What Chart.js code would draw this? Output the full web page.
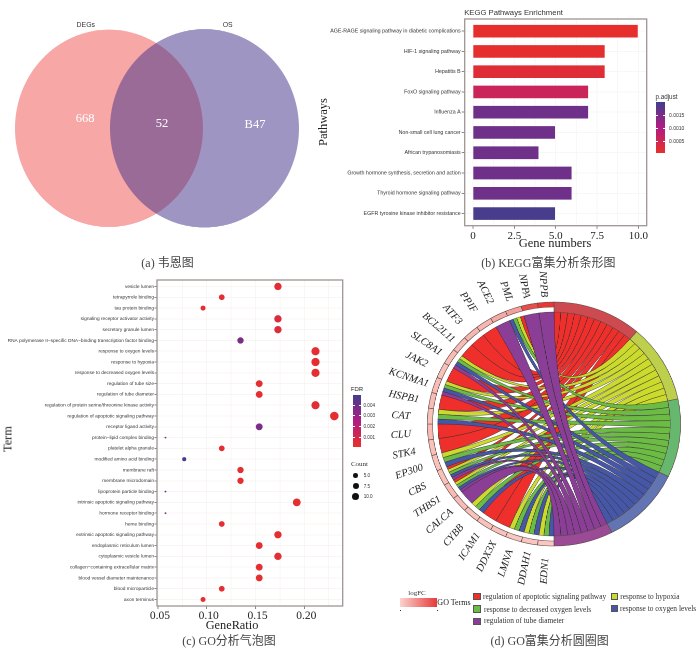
<!DOCTYPE html>
<html><head><meta charset="utf-8">
<script src="https://cdn.jsdelivr.net/npm/chart.js@4"></script>
<style>
html,body{margin:0;padding:0;background:#fff;width:700px;height:649px;overflow:hidden}
#stage{position:relative;width:700px;height:649px;overflow:hidden}
.w{position:absolute}
.t{position:absolute;white-space:nowrap;transform:translate(-50%,-50%);line-height:1}
.l{position:absolute;white-space:nowrap;transform:translateY(-50%);line-height:1}
.b{position:absolute}
</style></head><body><div id="stage"></div>
<script>
// ---------- panel (a) ----------
const vennSets=['DEGs','OS'];
const vennCentres=[-0.504,0.504];
const vennLabels=['668','52','B47'];
// ---------- panel (b) ----------
const keggPathways=['AGE-RAGE signaling pathway in diabetic complications','HIF-1 signaling pathway','Hepatitis B','FoxO signaling pathway','Influenza A','Non-small cell lung cancer','African trypanosomiasis','Growth hormone synthesis, secretion and action','Thyroid hormone signaling pathway','EGFR tyrosine kinase inhibitor resistance'];
const keggCounts=[10,8,8,7,7,5,4,6,6,5];
const keggPadj=[0.00003,0.00006,0.00016,0.00055,0.00160,0.00160,0.00160,0.00160,0.00160,0.00195];
const keggXTicks=[0,1.25,2.5,3.75,5,6.25,7.5,8.75,10];
const keggLegend=['0.0015','0.0010','0.0005'];
// ---------- panel (c) ----------
const goTerms=['vesicle lumen','tetrapyrrole binding','tau protein binding','signaling receptor activator activity','secretory granule lumen','RNA polymerase II\u2212specific DNA\u2212binding transcription factor binding','response to oxygen levels','response to hypoxia','response to decreased oxygen levels','regulation of tube size','regulation of tube diameter','regulation of protein serine/threonine kinase activity','regulation of apoptotic signaling pathway','receptor ligand activity','protein\u2212lipid complex binding','platelet alpha granule','modified amino acid binding','membrane raft','membrane microdomain','lipoprotein particle binding','intrinsic apoptotic signaling pathway','hormone receptor binding','heme binding','extrinsic apoptotic signaling pathway','endoplasmic reticulum lumen','cytoplasmic vesicle lumen','collagen\u2212containing extracellular matrix','blood vessel diameter maintenance','blood microparticle','axon terminus'];
const goCounts=[9,6,5,9,9,7,11,11,11,8,8,11,12,8,3,6,4,7,7,3,10,3,6,9,8,9,8,8,6,5];
const goRatios=[.173,.1154,.0962,.173,.173,.1346,.2115,.2115,.2115,.1538,.1538,.2115,.2308,.1538,.0577,.1154,.0769,.1346,.1346,.0577,.1923,.0577,.1154,.173,.1538,.173,.1538,.1538,.1154,.0962];
const goFdr=[.0003,.0002,.0002,.0006,.0005,.0037,.0002,.0002,.0002,.0002,.0002,.0003,.0002,.0037,.0037,.0003,.0049,.0002,.0002,.0037,.0002,.0037,.0002,.0002,.0002,.0002,.0002,.0002,.0002,.0002];
const goXTicks=[.05,.075,.1,.125,.15,.175,.2,.225];
const fdrLegend=['0.004','0.003','0.002','0.001'];
const countLegend=[[5,'5.0'],[7.5,'7.5'],[10,'10.0']];
// ---------- panel (d) ----------
const chordTerms=['regulation of apoptotic signaling pathway','response to hypoxia','response to decreased oxygen levels','response to oxygen levels','regulation of tube diameter'];
const chordGenes=['EDN1','DDAH1','LMNA','DDX3X','ICAM1','CYBB','CALCA','THBS1','CBS','EP300','STK4','CLU','CAT','HSPB1','KCNMA1','JAK2','SLC8A1','BCL2L11','ATF3','PPIF','ACE2','PML','NPPA','NPPB'];
const chordLogFC=[1.3,1.3,1.3,1.4,1.4,1.4,1.5,1.5,1.4,1.4,1.4,1.5,1.4,1.5,1.5,1.4,1.5,1.5,1.6,1.6,1.8,2.0,3.5,3.9];
const apoptosisGenes=['PML','PPIF','ATF3','BCL2L11','JAK2','HSPB1','CLU','STK4','CBS','THBS1','ICAM1','DDX3X'];
const hypoxiaGenes=['PML','SLC8A1','KCNMA1','CAT','EP300','CBS','THBS1','CYBB','LMNA','DDAH1','EDN1'];
const decreasedOxygenGenes=['PML','SLC8A1','KCNMA1','CAT','EP300','CBS','THBS1','CYBB','LMNA','DDAH1','EDN1'];
const oxygenGenes=['PML','SLC8A1','KCNMA1','CAT','EP300','CBS','THBS1','CYBB','LMNA','DDAH1','EDN1'];
const tubeDiameterGenes=['NPPB','NPPA','ACE2','SLC8A1','KCNMA1','CBS','THBS1','CALCA'];
const termMembers=[apoptosisGenes,hypoxiaGenes,decreasedOxygenGenes,oxygenGenes,tubeDiameterGenes];

const SANS='"Liberation Sans",Arial,sans-serif', SERIF='"Liberation Serif","Noto Sans CJK SC",serif';
const stage=document.getElementById('stage');
Chart.defaults.animation=false;
Chart.defaults.responsive=false;
Chart.defaults.devicePixelRatio=2;
Chart.defaults.events=[];
Chart.defaults.plugins.legend.display=false;
Chart.defaults.plugins.tooltip.enabled=false;

function text(x,y,s,o={}){const d=document.createElement('div');d.className=o.left?'l':'t';d.textContent=s;
 d.style.cssText+=`left:${x}px;top:${y}px;font:${o.style||''} ${o.size||12}px ${o.font||SERIF};color:${o.color||'#2b2b2b'};z-index:5;`;
 if(o.rot!=null)d.style.transform=`translate(-50%,-50%) rotate(${o.rot}deg)`;
 if(o.ls)d.style.letterSpacing=o.ls+'px';
 stage.appendChild(d);return d;}
function box(x,y,w,h,bg,extra=''){const d=document.createElement('div');d.className='b';d.style.cssText+=`left:${x}px;top:${y}px;width:${w}px;height:${h}px;background:${bg};z-index:4;${extra}`;stage.appendChild(d);return d;}
function canvasAt(x,y,w,h,extra=''){const d=document.createElement('div');d.className='w';d.style.cssText+=`left:${x}px;top:${y}px;width:${w}px;height:${h}px;${extra}`;const c=document.createElement('canvas');c.width=w;c.height=h;d.appendChild(c);stage.appendChild(d);return c;}
function mix(a,b,t){return a.map((v,i)=>Math.round(v+(b[i]-v)*t));}
function ramp(t){t=Math.max(0,Math.min(1,t));const r=[232,48,42],m=[176,28,130],n=[66,62,140];const c=t<.5?mix(r,m,t*2):mix(m,n,(t-.5)*2);return `rgb(${c})`;}
const rampCss='linear-gradient(to top,rgb(232,48,42),rgb(176,28,130),rgb(66,62,140))';
const boxPlugin={id:'frame',afterDatasetsDraw(ch){const a=ch.chartArea,c=ch.ctx;c.save();c.strokeStyle='#9d9593';c.lineWidth=1.3;c.strokeRect(a.left,a.top,a.right-a.left,a.bottom-a.top);c.restore();}};

// ---------- (a) Venn ----------
new Chart(canvasAt(0,0,320,260,'transform:scaleY(1.05);transform-origin:0 128.3px;'),{type:'scatter',
 data:{datasets:[
  {label:vennSets[1],data:[{x:vennCentres[1],y:0}],pointRadius:94.5,backgroundColor:'rgba(70,52,140,.52)',borderWidth:0,order:0,clip:false},
  {label:vennSets[0],data:[{x:vennCentres[0],y:0}],pointRadius:94,backgroundColor:'rgb(246,167,166)',borderWidth:0,order:1,clip:false}]},
 options:{layout:{autoPadding:false},scales:{x:{display:false,min:-1.654,max:1.723},y:{display:false,min:-1.39,max:1.354}}}});
text(85.8,24,vennSets[0],{font:SANS,size:6.9,color:'#333'});
text(227.7,24,vennSets[1],{font:SANS,size:6.9,color:'#333'});
text(85,118,vennLabels[0],{size:12.5,color:'#fff'});
text(162,122.7,vennLabels[1],{size:12.5,color:'#fff'});
text(255,124.3,vennLabels[2],{size:12.5,color:'#fff'});
text(167.5,262,'(a) 韦恩图',{size:12,color:'#444'});

// ---------- (b) KEGG bars ----------
new Chart(canvasAt(316,0,335,252),{type:'bar',
 data:{labels:keggPathways,datasets:[{data:keggCounts.map((v,i)=>({x:v,y:i})),barThickness:14,
  backgroundColor:keggPadj.map(p=>ramp(p/0.002)),borderColor:'rgba(255,255,255,.35)',borderWidth:1}]},
 options:{indexAxis:'y',layout:{autoPadding:false,padding:{top:19,right:4.3}},
  scales:{
   x:{type:'linear',min:-0.5,max:10.5,afterBuildTicks(s){s.ticks=keggXTicks.map(v=>({value:v}));},afterFit(s){s.height=26.3;},
    grid:{color:'#f6f4f4',lineWidth:.7,tickLength:3,tickColor:c=>c.tick&&Number.isInteger(c.tick.value/2.5)?'#555':'rgba(0,0,0,0)',z:-1},border:{display:false},
    ticks:{autoSkip:false,maxRotation:0,padding:1,color:'#222',font:{family:SERIF,size:11},callback:v=>Number.isInteger(v/2.5)?(v===0?'0':v.toFixed(1)):''}},
   y:{type:'linear',reverse:true,offset:false,min:-0.6,max:9.6,afterBuildTicks(s){s.ticks=keggPathways.map((_,i)=>({value:i}));},afterFit(s){s.width=148.7;},
    grid:{offset:false,color:'#f6f4f4',lineWidth:.7,tickLength:3,tickColor:'#555',z:-1},border:{display:false},
    ticks:{autoSkip:false,padding:1,color:'#333',font:{family:SANS,size:5.3},callback:v=>keggPathways[v]}}}},
 plugins:[boxPlugin]});
text(513.5,11.7,'KEGG Pathways Enrichment',{font:SANS,size:7.7,color:'#333'});
text(555,243,'Gene numbers',{size:12.5,color:'#222'});
text(322.7,122,'Pathways',{size:12.5,rot:-90,color:'#222'});
text(666.5,95.7,'p.adjust',{font:SANS,size:6.3,color:'#333'});
box(656,101.7,9.3,51.6,rampCss);
[115,128,141].forEach((y,i)=>{box(656,y,2,.6,'#fff');box(663.3,y,2,.6,'#fff');text(669,y,keggLegend[i],{left:1,font:SANS,size:5,color:'#333'});});
text(548.3,261.7,'(b) KEGG富集分析条形图',{size:12,color:'#444'});

// ---------- (c) GO bubbles ----------
const bubbleRadius=c=>0.9+3.4*Math.sqrt((c-3)/9);
new Chart(canvasAt(0,270,346,355),{type:'scatter',
 data:{datasets:[{data:goRatios.map((v,i)=>({x:v,y:i})),
  pointRadius:goCounts.map(bubbleRadius),pointBackgroundColor:goFdr.map(f=>ramp(f/0.005)),pointBorderWidth:0}]},
 options:{layout:{autoPadding:false,padding:{top:10,right:3.3}},
  scales:{
   x:{type:'linear',min:.049,max:.2394,afterBuildTicks(s){s.ticks=goXTicks.map(v=>({value:v}));},afterFit(s){s.height=19;},
    grid:{color:'#f8f2f2',lineWidth:.7,tickLength:3,tickColor:c=>c.index%2===0?'#555':'rgba(0,0,0,0)',z:-1},border:{display:false},
    ticks:{autoSkip:false,maxRotation:0,padding:0,labelOffset:2,color:'#222',font:{family:SERIF,size:11.5},callback:(v,i)=>i%2===0?v.toFixed(2):''}},
   y:{type:'linear',reverse:true,min:-0.6,max:29.6,afterBuildTicks(s){s.ticks=goTerms.map((_,i)=>({value:i}));},afterFit(s){s.width=157;},
    grid:{color:'#f8f2f2',lineWidth:.7,tickLength:2.5,tickColor:'#555',z:-1},border:{display:false},
    ticks:{autoSkip:false,padding:.5,color:'#333',font:{family:SANS,size:4.8},callback:v=>goTerms[v]}}}},
 plugins:[boxPlugin]});
text(232,624.5,'GeneRatio',{size:12.3,color:'#222'});
text(7.5,439,'Term',{size:12.3,rot:-90,color:'#222'});
text(357,389,'FDR',{font:SANS,size:6,color:'#333'});
box(353.3,395,7.7,52,rampCss);
[404.7,415.3,426,436.7].forEach((y,i)=>{box(353.3,y,1.6,.5,'#fff');box(359.4,y,1.6,.5,'#fff');text(363.5,y,fdrLegend[i],{left:1,font:SANS,size:4.6,color:'#333'});});
text(359.5,464,'Count',{size:7,color:'#333'});
[475.3,485.7,496.3].forEach((y,i)=>{const r=[2.3,3,3.7][i];box(355.7-r,y-r,2*r,2*r,'#111','border-radius:50%;');text(363.7,y,countLegend[i][1],{left:1,font:SANS,size:4.6,color:'#333'});});
text(229,640,'(c) GO分析气泡图',{size:12,color:'#444'});

// ---------- (d) chord ----------
const CX=553.6,CY=424.2,RX=1.038;
const termCounts=termMembers.map(m=>m.length);
const total=termCounts.reduce((a,b)=>a+b,0);
const termRing=['#CC4A50','#BED04B','#67B86E','#6274B2','#9B4A95'];
const ribbonCol=['#EE2F2B','#CBDA2C','#6CBB45','#4657A7','#8A3E95'];
const fcCol=v=>{const t=(v-1)/3;return `rgb(${mix([253,215,208],[232,48,46],t)})`;};
const chordPlugin={id:'chord',
 afterDatasetsUpdate(ch){const arcs=ch.getDatasetMeta(0).data;arcs.forEach((a,i)=>{a.innerRadius=a.outerRadius-(i<5?10:5);});},
 beforeDatasetsDraw(ch){
  const arcs=ch.getDatasetMeta(0).data,c=ch.ctx,x0=arcs[0].x,y0=arcs[0].y,R=arcs[0].outerRadius-10;
  const P=a=>[x0+R*Math.cos(a),y0+R*Math.sin(a)];
  const geneTerms=chordGenes.map(g=>termMembers.map((m,i)=>m.includes(g)?i:-1).filter(i=>i>=0));
  c.save();c.lineWidth=.4;c.strokeStyle='#2a2a2a';
  termMembers.forEach((members,t)=>{
   const arc=arcs[t],w=(arc.endAngle-arc.startAngle)/members.length;
   const sorted=members.map(g=>chordGenes.indexOf(g)).sort((p,q)=>q-p);
   sorted.forEach((gi,k)=>{
    const ga=arcs[5+gi],ts=geneTerms[gi],gw=(ga.endAngle-ga.startAngle)/ts.length,pos=ts.indexOf(t);
    const a2=ga.endAngle-pos*gw,a1=a2-gw,b1=arc.startAngle+k*w,b2=b1+w;
    const pb=P(b1),pa=P(a1);
    c.beginPath();c.arc(x0,y0,R,a1,a2);c.quadraticCurveTo(x0,y0,pb[0],pb[1]);c.arc(x0,y0,R,b1,b2);c.quadraticCurveTo(x0,y0,pa[0],pa[1]);c.closePath();
    c.fillStyle=ribbonCol[t];c.fill();c.stroke();
   });
  });
  c.restore();
 }};
new Chart(canvasAt(CX-180,CY-180,360,360,`transform:scaleX(${RX});transform-origin:50% 50%;`),{type:'doughnut',
 data:{labels:[...chordTerms,...chordGenes],datasets:[{
  data:[...termCounts,...chordGenes.map(()=>total/chordGenes.length)],
  backgroundColor:[...termRing,...chordLogFC.map(fcCol)],borderColor:'#5b4f4d',borderWidth:.6,borderAlign:'center'}]},
 options:{radius:122,cutout:112,layout:{autoPadding:false,padding:0}},
 plugins:[chordPlugin]});
chordGenes.forEach((g,i)=>{const deg=180+7.5*(i+.5),th=deg*Math.PI/180,r=deg>337?140.5:147;
 text(CX+r*RX*Math.sin(th),CY-r*Math.cos(th),g,{size:10.5,style:'italic',rot:deg-270,color:'#222'});});
text(417,592.7,'logFC',{size:7,color:'#333'});
box(399.7,598,37.3,9,'linear-gradient(to right,#FBD3CD,#E63A3A)');
box(400,609.5,.7,1.5,'#333');box(436.5,609.5,.7,1.5,'#333');
text(454,602,'GO Terms',{size:8,color:'#222'});
[[473.3,592.7,0,483,596.3],[473.3,605,2,484,609],[473.3,617.7,4,484,620.3],[610.7,592.7,1,620.3,595.7],[610.7,604.7,3,620,608.3]].forEach(([x,y,t,tx,ty])=>{
 box(x,y,7.4,7.6,ribbonCol[t],'border:.5px solid #555;box-sizing:border-box;');
 text(tx,ty,chordTerms[t],{left:1,size:7.4,color:'#333'});});
text(549.7,640,'(d) GO富集分析圆圈图',{size:12,color:'#444'});
</script></body></html>
